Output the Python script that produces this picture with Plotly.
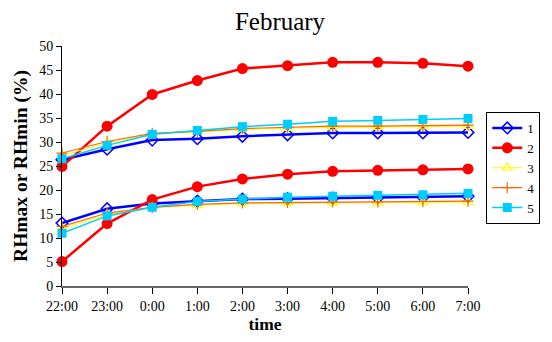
import plotly.graph_objects as go

times = ["22:00", "23:00", "0:00", "1:00", "2:00", "3:00", "4:00", "5:00", "6:00", "7:00"]
series_names = ["1", "2", "3", "4", "5"]

s1_max = [26.3, 28.5, 30.4, 30.7, 31.2, 31.5, 31.9, 31.9, 31.9, 32.0]
s1_min = [13.1, 16.1, 17.2, 17.7, 18.1, 18.2, 18.3, 18.4, 18.5, 18.7]
s2_max = [24.9, 33.3, 39.9, 42.8, 45.3, 45.9, 46.6, 46.6, 46.4, 45.8]
s2_min = [5.1, 13.0, 18.0, 20.7, 22.3, 23.3, 23.9, 24.1, 24.2, 24.4]
s3_max = [27.2, 29.8, 31.6, 32.1, 32.6, 32.9, 33.0, 33.1, 33.2, 33.3]
s3_min = [11.9, 14.9, 16.4, 16.8, 17.2, 17.3, 17.3, 17.3, 17.4, 17.5]
s4_max = [27.7, 30.1, 31.8, 32.2, 32.8, 33.1, 33.3, 33.3, 33.4, 33.5]
s4_min = [12.4, 15.2, 16.4, 17.0, 17.3, 17.4, 17.5, 17.5, 17.6, 17.7]
s5_max = [26.5, 29.3, 31.6, 32.4, 33.2, 33.7, 34.3, 34.5, 34.7, 34.9]
s5_min = [11.0, 14.6, 16.4, 17.6, 18.1, 18.5, 18.7, 18.9, 19.0, 19.3]

styles = [
    dict(color="#0000FF", width=2.5, marker=dict(symbol="diamond-open", size=9, color="#0000FF", line=dict(width=1.5, color="#0000FF"))),
    dict(color="#FF0000", width=2.5, marker=dict(symbol="circle", size=11, color="#FF0000", line=dict(width=0))),
    dict(color="#FFFF00", width=1, marker=dict(symbol="triangle-up-open", size=9, color="#FFFF00", line=dict(width=1.2, color="#FFFF00"))),
    dict(color="#FF6600", width=1.2, marker=dict(symbol="cross-thin", size=8, color="#FF6600", line=dict(width=1.2, color="#FF6600"))),
    dict(color="#00CCFF", width=1.5, marker=dict(symbol="square", size=9, color="#00CCFF", line=dict(width=0))),
]

data = [(s1_max, s1_min), (s2_max, s2_min), (s3_max, s3_min), (s4_max, s4_min), (s5_max, s5_min)]

fig = go.Figure()
for name, (mx, mn), st in zip(series_names, data, styles):
    for k, vals in enumerate((mx, mn)):
        fig.add_trace(go.Scatter(
            x=times, y=vals, mode="lines+markers", name=name,
            legendgroup=name, showlegend=(k == 0),
            line=dict(color=st["color"], width=st["width"]),
            marker=st["marker"], cliponaxis=False,
        ))

serif = "Liberation Serif"
fig.update_layout(
    width=544, height=334,
    margin=dict(l=49, r=66, t=38, b=56),
    plot_bgcolor="white", paper_bgcolor="white",
    font=dict(family=serif, size=14, color="black"),
    title=dict(text="February", x=0.5, xanchor="center", y=0.96, yanchor="middle",
               font=dict(family=serif, size=25, color="black")),
    xaxis=dict(
        type="category", range=[0, 9], showline=True, linecolor="#666666", linewidth=1.5,
        ticks="outside", ticklen=6, tickcolor="black", showgrid=False, zeroline=False,
        tickfont=dict(family=serif, size=14),
        title=dict(text="<b>time</b>", font=dict(family=serif, size=17.5), standoff=4),
    ),
    yaxis=dict(
        range=[0, 50], dtick=5, showline=True, linecolor="black", linewidth=1,
        ticks="outside", ticklen=5, tickcolor="black", showgrid=False, zeroline=False,
        tickfont=dict(family=serif, size=14),
        title=dict(text="<b>RHmax or RHmin (%)</b>", font=dict(family=serif, size=19.5), standoff=6),
    ),
    legend=dict(
        x=1.045, y=0.725, xanchor="left", yanchor="top",
        bordercolor="black", borderwidth=1, bgcolor="white",
        font=dict(family=serif, size=13), tracegroupgap=0, itemwidth=30,
    ),
)

fig.write_html("out.html")
